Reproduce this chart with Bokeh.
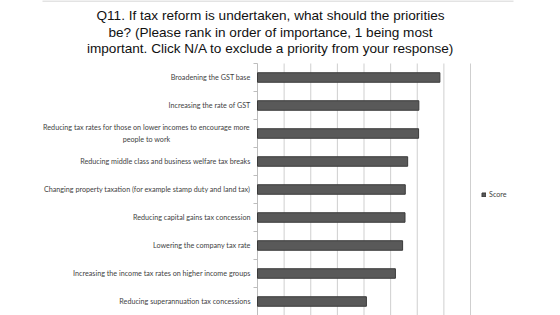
import numpy as np
from bokeh.plotting import figure
from bokeh.models import (ColumnDataSource, LabelSet, Label, Range1d, Legend,
                          LegendItem, BoxAnnotation)
from bokeh.core.properties import value
from bokeh.embed import file_html
from bokeh.resources import INLINE

# ---- data ----
categories = [
    "Broadening the GST base",
    "Increasing the rate of GST",
    "Reducing tax rates for those on lower incomes to encourage more\npeople to work",
    "Reducing middle class and business welfare tax breaks",
    "Changing property taxation (for example stamp duty and land tax)",
    "Reducing capital gains tax concession",
    "Lowering the company tax rate",
    "Increasing the income tax rates on higher income groups",
    "Reducing superannuation tax concessions",
]
scores = [6.85, 6.06, 6.05, 5.64, 5.55, 5.54, 5.45, 5.18, 4.09]
series_name = "Score"
x_ticks = [0, 1, 2, 3, 4, 5, 6, 7, 8]
title_lines = [
    "Q11. If tax reform is undertaken, what should the priorities",
    "be? (Please rank in order of importance, 1 being most",
    "important. Click N/A to exclude a priority from your response)",
]

# ---- layout (pixels) ----
W, H = 560, 315
AX_LEFT, AX_RIGHT = 257, 470      # plot area in canvas pixels
AX_TOP, AX_BOTTOM = 63, 315

n = len(categories)
xmin, xmax = x_ticks[0], x_ticks[-1]
ppx = (AX_RIGHT - AX_LEFT) / (xmax - xmin)   # px per x unit
ppy = (AX_BOTTOM - AX_TOP) / n               # px per category
x_range = Range1d(xmin - AX_LEFT / ppx, xmax + (W - AX_RIGHT) / ppx)
y_range = Range1d(0 - (H - AX_BOTTOM) / ppy, n + AX_TOP / ppy)

ypos = (n - 0.5) - np.arange(n)

single = [i for i, c in enumerate(categories) if "\n" not in c]
multi = [i for i, c in enumerate(categories) if "\n" in c]

src = ColumnDataSource(dict(y=ypos, score=scores, cat=categories))
lab_src = ColumnDataSource(dict(
    x=[0.0] * len(single),
    y=[ypos[i] for i in single],
    text=[categories[i] for i in single],
))

p = figure(width=W, height=H, output_backend="svg", toolbar_location=None,
           x_range=x_range, y_range=y_range,
           x_axis_location=None, y_axis_location=None, min_border=0)
p.outline_line_color = None
p.background_fill_color = "white"
p.border_fill_color = "white"
p.grid.visible = False

# vertical gridlines at the value ticks, spanning the plot area only
gt = x_ticks[1:]
p.segment(x0=gt, y0=[0] * len(gt), x1=gt, y1=[n] * len(gt),
          line_color="#cfcfcf", line_width=1)

# category axis line and boundary ticks
tick_len = 4 / ppx
p.segment(x0=[xmin], y0=[0], x1=[xmin], y1=[n], line_color="#bdbdbd", line_width=1)
bnd = np.arange(n + 1)
p.segment(x0=[xmin] * (n + 1), y0=bnd, x1=[xmin - tick_len] * (n + 1), y1=bnd,
          line_color="#bdbdbd", line_width=1)

r = p.hbar(y="y", right="score", left=0, height=0.34, source=src,
           fill_color="#595959", line_color="#3a3a3a", line_width=1)

labels = LabelSet(x="x", y="y", text="text", source=lab_src, x_offset=-7,
                  text_align="right", text_baseline="middle",
                  text_font=value("Lato"), text_font_size=value("7.2px"),
                  text_color="#3f3f3f")
p.add_layout(labels)

for i in multi:
    p.add_layout(Label(x=0, y=ypos[i], x_offset=-111, text=categories[i],
                       text_align="center", text_baseline="middle",
                       text_font="Lato", text_font_size="7.2px",
                       text_color="#3f3f3f", text_line_height=1.25))

for k, t in enumerate(title_lines):
    p.add_layout(Label(x=270, y=H - (15 + 16.5 * k), x_units="screen",
                       y_units="screen", text=t, text_align="center",
                       text_baseline="middle", text_font="Liberation Sans",
                       text_font_size="13.6px", text_color="#111111"))

# thin rule at top of slide
p.add_layout(BoxAnnotation(left=42, right=513, top=H, bottom=H - 1,
                           left_units="screen", right_units="screen",
                           top_units="screen", bottom_units="screen",
                           fill_color="#c8c8c8", fill_alpha=1, line_color=None))

legend = Legend(items=[LegendItem(label=series_name, renderers=[r])],
                location=(481, 116), orientation="vertical",
                label_text_font="Lato", label_text_font_size="7.2px",
                label_text_color="#3f3f3f", glyph_width=5, glyph_height=5,
                label_standoff=3, padding=0, margin=0, spacing=0,
                border_line_color=None, background_fill_alpha=0,
                label_height=8)
p.add_layout(legend, "center")

open("out.html", "w").write(file_html(p, INLINE))
